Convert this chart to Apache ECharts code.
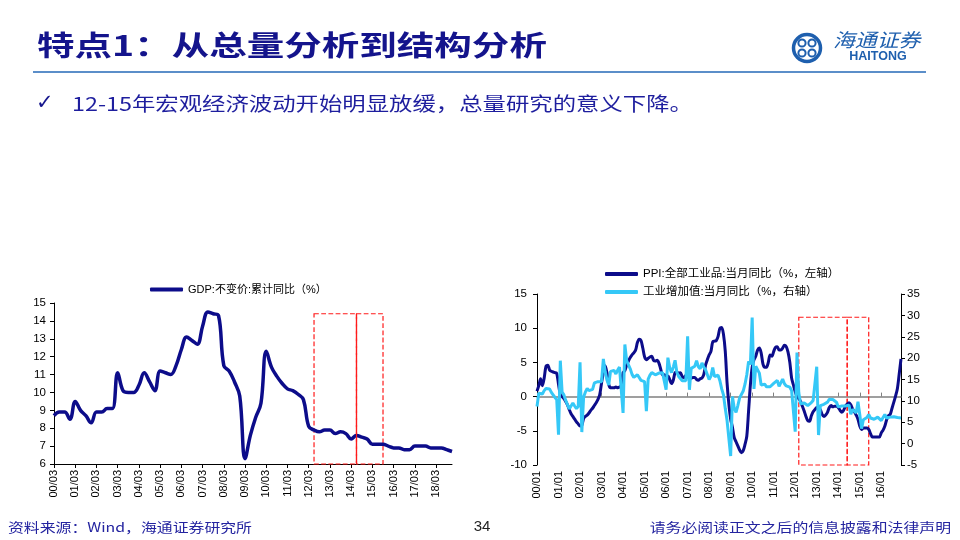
<!DOCTYPE html>
<html>
<head>
<meta charset="utf-8">
<script src="https://cdn.jsdelivr.net/npm/echarts@6/dist/echarts.min.js"></script>
<style>
html, body { margin: 0; padding: 0; background: #fff; }
#main { width: 960px; height: 540px; }
</style>
</head>
<body>
<div id="main"></div>
<script>
var gdpName = 'GDP:不变价:累计同比（%）';
var ppiName = 'PPI:全部工业品:当月同比（%，左轴）';
var ipName = '工业增加值:当月同比（%，右轴）';

// 季度标签 00/03 ... 18/12
var quarterEnds = ['03', '06', '09', '12'];
var quarters = [];
for (var y = 0; y <= 18; y++) {
    for (var q = 0; q < 4; q++) quarters.push((y < 10 ? '0' : '') + y + '/' + quarterEnds[q]);
}
// 月度标签 00/01 ... 16/12
var months = [];
for (var y2 = 0; y2 <= 16; y2++) {
    for (var m = 1; m <= 12; m++) months.push((y2 < 10 ? '0' : '') + y2 + '/' + (m < 10 ? '0' : '') + m);
}

// GDP 不变价 累计同比，每年4个季度
var gdp = [
    8.7, 8.9, 8.9, 8.5,      // 2000
    9.5, 9.0, 8.7, 8.3,      // 2001
    8.9, 8.9, 9.1, 9.1,      // 2002
    11.1, 10.1, 10.0, 10.0,  // 2003
    10.4, 11.1, 10.6, 10.1,  // 2004
    11.2, 11.1, 11.0, 11.5,  // 2005
    12.4, 13.1, 12.9, 12.7,  // 2006
    13.7, 14.5, 14.4, 14.3,  // 2007
    11.5, 11.2, 10.6, 9.8,   // 2008
    6.3, 7.6, 8.6, 9.4,      // 2009
    12.3, 11.4, 10.9, 10.5,  // 2010
    10.2, 10.1, 9.9, 9.6,    // 2011
    8.1, 7.9, 7.8, 7.9,      // 2012
    7.9, 7.7, 7.8, 7.7,      // 2013
    7.4, 7.6, 7.5, 7.4,      // 2014
    7.1, 7.1, 7.1, 7.0,      // 2015
    6.9, 6.9, 6.8, 6.8,      // 2016
    7.0, 7.0, 7.0, 6.9,      // 2017
    6.9, 6.9, 6.8, 6.7       // 2018
];

// PPI 当月同比（左轴）
var ppi = [
    0.8, 1.6, 2.6, 1.6, 2.7, 4.4, 4.6, 3.9, 3.7, 3.6, 3.5, 3.4,            // 2000
    1.8, 0.3, 0.0, -0.3, -0.7, -1.2, -1.9, -2.5, -2.9, -3.3, -3.7, -4.0,   // 2001
    -4.3, -4.2, -3.2, -2.9, -2.7, -2.4, -2.0, -1.7, -1.3, -0.9, -0.4, 0.3, // 2002
    2.0, 3.5, 4.5, 3.5, 1.8, 1.3, 1.3, 1.3, 1.4, 1.3, 1.4, 1.6,            // 2003
    3.5, 3.8, 4.6, 5.2, 5.7, 6.1, 6.4, 6.8, 7.9, 8.4, 8.2, 7.1,            // 2004
    5.8, 5.4, 5.6, 5.8, 5.9, 5.3, 5.2, 5.3, 4.9, 4.0, 3.2, 3.2,            // 2005
    3.0, 3.0, 2.5, 1.9, 2.4, 3.5, 3.6, 3.4, 3.5, 2.9, 2.8, 3.1,            // 2006
    3.3, 2.6, 2.7, 2.8, 2.8, 2.5, 2.4, 2.6, 2.7, 3.2, 4.6, 5.4,            // 2007
    6.1, 6.6, 8.0, 8.1, 8.2, 8.8, 10.0, 10.1, 9.1, 6.6, 2.0, -1.1,         // 2008
    -3.3, -4.5, -6.0, -6.6, -7.2, -7.8, -8.2, -7.9, -7.0, -5.8, -2.1, 1.7, // 2009
    4.3, 5.4, 5.9, 6.8, 7.1, 6.4, 4.8, 4.3, 4.3, 5.0, 6.1, 5.9,            // 2010
    6.6, 7.2, 7.3, 6.8, 6.8, 7.1, 7.5, 7.3, 6.5, 5.0, 2.7, 1.7,            // 2011
    0.7, 0.0, -0.3, -0.7, -1.4, -2.1, -2.9, -3.5, -3.6, -2.8, -2.2, -1.9,  // 2012
    -1.6, -1.6, -1.9, -2.6, -2.9, -2.7, -2.3, -1.6, -1.3, -1.5, -1.4, -1.4,// 2013
    -1.6, -2.0, -2.3, -2.0, -1.4, -1.1, -0.9, -1.2, -1.8, -2.2, -2.7, -3.3,// 2014
    -4.3, -4.8, -4.6, -4.6, -4.6, -4.8, -5.4, -5.9, -5.9, -5.9, -5.9, -5.9,// 2015
    -5.3, -4.9, -4.3, -3.4, -2.8, -2.6, -1.7, -0.8, 0.1, 1.2, 3.3, 5.5     // 2016
];

// 工业增加值 当月同比（右轴）
var ip = [
    8.7, 11.8, 12.2, 11.6, 12.4, 12.9, 13.0, 12.8, 12.0, 11.4, 10.8, 10.3, // 2000
    2.1, 19.4, 12.1, 11.4, 10.1, 10.1, 8.1, 8.1, 9.5, 8.8, 8.2, 8.7,       // 2001
    19.0, 2.7, 10.9, 12.1, 12.9, 12.4, 12.8, 12.7, 14.2, 14.2, 14.5, 14.9, // 2002
    14.5, 19.8, 16.9, 14.9, 13.7, 16.9, 16.5, 17.1, 16.3, 17.2, 17.9, 18.1,// 2003
    7.2, 23.2, 19.4, 19.1, 17.5, 16.2, 15.5, 15.9, 16.1, 15.7, 14.8, 14.4, // 2004
    14.5, 7.6, 15.1, 16.0, 16.6, 16.8, 16.1, 16.0, 16.5, 16.1, 16.6, 16.5, // 2005
    12.6, 20.1, 17.8, 16.6, 17.9, 19.5, 16.7, 15.7, 16.1, 14.7, 14.9, 14.7,// 2006
    25.1, 12.6, 17.6, 17.4, 18.1, 19.4, 18.0, 17.5, 18.9, 17.9, 17.3, 17.4,// 2007
    15.0, 15.8, 17.8, 15.7, 16.0, 16.0, 14.7, 12.8, 11.4, 8.2, 5.4, 5.7,   // 2008
    -2.9, 11.0, 8.3, 7.3, 8.9, 10.7, 10.8, 12.3, 13.9, 16.1, 19.2, 18.5,   // 2009
    29.5, 12.8, 18.1, 17.8, 16.5, 13.7, 13.4, 13.9, 13.3, 13.1, 13.3, 13.5,// 2010
    14.1, 14.1, 14.8, 13.4, 13.3, 15.1, 14.0, 13.5, 13.8, 13.2, 12.4, 12.8,// 2011
    2.8, 21.3, 11.9, 9.3, 9.6, 9.5, 9.2, 8.9, 9.2, 9.6, 10.1, 10.3,        // 2012
    18.0, 2.0, 8.9, 9.3, 9.2, 8.9, 9.7, 10.4, 10.2, 10.3, 10.0, 9.7,       // 2013
    8.6, 8.6, 8.8, 8.7, 8.8, 9.2, 9.0, 6.9, 8.0, 7.7, 7.2, 9.8,            // 2014
    6.8, 3.5, 5.6, 5.9, 6.1, 6.8, 6.0, 6.1, 5.7, 5.6, 6.2, 5.9,            // 2015
    5.4, 5.4, 6.8, 6.0, 6.0, 6.2, 6.0, 6.3, 6.1, 6.1, 6.2, 6.0             // 2016
];

var numFont = 'Liberation Sans, Noto Sans CJK SC, sans-serif';
var cjkFont = 'Noto Sans CJK SC, Liberation Sans, sans-serif';
var navy = '#0c0c8a';
var cyan = '#35c8f7';
var boxStyle = { color: 'rgba(0,0,0,0)', borderColor: '#ff1a1a', borderWidth: 1.2, borderType: 'dashed' };
var midLine = { color: '#ff1a1a', width: 1.2, type: 'solid' };

function yAxisBase(grid, min, max, step, pos, margin) {
    return {
        type: 'value', gridIndex: grid, min: min, max: max, interval: step, position: pos,
        axisLine: { show: true, lineStyle: { color: '#000', width: 1 } },
        axisTick: { show: true, length: 4, lineStyle: { color: '#000' } },
        axisLabel: { color: '#000', fontSize: 11.5, fontFamily: numFont, margin: margin },
        splitLine: { show: false }
    };
}

var chart = echarts.init(document.getElementById('main'));
chart.setOption({
    animation: false,
    backgroundColor: '#fff',
    graphic: [
        { type: 'text', x: 37, y: 45, scaleX: 1.34,
          style: { text: '特点1：从总量分析到结构分析', fill: '#14148c', fontSize: 28, fontWeight: 'bold', fontFamily: cjkFont, verticalAlign: 'middle' } },
        { type: 'line', shape: { x1: 33, y1: 72, x2: 926, y2: 72 }, style: { stroke: '#5b8ec9', lineWidth: 2 } },
        { type: 'text', x: 36, y: 104,
          style: { text: '✓', fill: '#14148c', fontSize: 21, fontFamily: 'DejaVu Sans', verticalAlign: 'middle' } },
        { type: 'text', x: 72, y: 104, scaleX: 1.23,
          style: { text: '12-15年宏观经济波动开始明显放缓，总量研究的意义下降。', fill: '#1e1e9e', fontSize: 19, fontFamily: cjkFont, verticalAlign: 'middle' } },
        // logo
        { type: 'circle', shape: { cx: 807, cy: 48, r: 13.5 }, style: { fill: 'none', stroke: '#1e5fae', lineWidth: 3.5 } },
        { type: 'circle', shape: { cx: 802, cy: 43, r: 3.6 }, style: { fill: 'none', stroke: '#1e5fae', lineWidth: 2 } },
        { type: 'circle', shape: { cx: 812, cy: 43, r: 3.6 }, style: { fill: 'none', stroke: '#1e5fae', lineWidth: 2 } },
        { type: 'circle', shape: { cx: 802, cy: 53, r: 3.6 }, style: { fill: 'none', stroke: '#1e5fae', lineWidth: 2 } },
        { type: 'circle', shape: { cx: 812, cy: 53, r: 3.6 }, style: { fill: 'none', stroke: '#1e5fae', lineWidth: 2 } },
        { type: 'text', x: 833, y: 40, scaleX: 1.15,
          style: { text: '海通证券', fill: '#1e5fae', fontSize: 19, fontStyle: 'italic', fontFamily: cjkFont, verticalAlign: 'middle' } },
        { type: 'text', x: 878, y: 57,
          style: { text: 'HAITONG', fill: '#1e5fae', fontSize: 12.5, fontWeight: 'bold', fontFamily: numFont, align: 'center', verticalAlign: 'middle' } },
        // footer
        { type: 'text', x: 8, y: 527, scaleX: 1.22,
          style: { text: '资料来源：Wind，海通证券研究所', fill: '#2424a0', fontSize: 13, fontFamily: cjkFont, verticalAlign: 'middle' } },
        { type: 'text', x: 482, y: 527,
          style: { text: '34', fill: '#222', fontSize: 15, fontFamily: numFont, align: 'center', verticalAlign: 'middle' } },
        { type: 'text', x: 951, y: 527, scaleX: 1.22,
          style: { text: '请务必阅读正文之后的信息披露和法律声明', fill: '#2424a0', fontSize: 13, fontFamily: cjkFont, align: 'right', verticalAlign: 'middle' } }
    ],
    legend: [
        { data: [gdpName], left: 145, top: 279, icon: 'roundRect', itemWidth: 33, itemHeight: 4,
          textStyle: { fontSize: 11, color: '#000', fontFamily: numFont } },
        { data: [ppiName, ipName], left: 600, top: 262, orient: 'vertical', icon: 'roundRect', itemGap: 4,
          itemWidth: 33, itemHeight: 4,
          textStyle: { fontSize: 11.5, color: '#000', fontFamily: numFont, lineHeight: 14 } }
    ],
    grid: [
        { left: 54, top: 303, width: 398, height: 161 },
        { left: 537, top: 294, width: 364, height: 171 }
    ],
    xAxis: [
        { type: 'category', gridIndex: 0, data: quarters, boundaryGap: false,
          axisLine: { onZero: false, lineStyle: { color: '#000', width: 1 } },
          axisTick: { interval: 3, length: 4, lineStyle: { color: '#000' } },
          axisLabel: { interval: 3, rotate: 90, fontSize: 11, color: '#000', fontFamily: numFont, margin: 6 } },
        { type: 'category', gridIndex: 1, data: months, boundaryGap: false,
          axisLine: { show: false, onZero: false }, axisTick: { show: false },
          axisLabel: { interval: 11, rotate: 90, fontSize: 11, color: '#000', fontFamily: numFont, margin: 6 } },
        { type: 'category', gridIndex: 1, data: months, boundaryGap: false,
          axisLine: { onZero: true, lineStyle: { color: '#808080', width: 1.5 } },
          axisTick: { interval: 11, length: 4, lineStyle: { color: '#808080' } },
          axisLabel: { show: false } }
    ],
    yAxis: [
        yAxisBase(0, 6, 15, 1, 'left', 8),
        yAxisBase(1, -10, 15, 5, 'left', 10),
        yAxisBase(1, -5, 35, 5, 'right', 6)
    ],
    series: [
        { name: gdpName, type: 'line', xAxisIndex: 0, yAxisIndex: 0, data: gdp,
          symbol: 'none', smooth: 0.4, clip: false,
          lineStyle: { color: navy, width: 3.5 }, itemStyle: { color: navy },
          markArea: { silent: true, label: { show: false }, itemStyle: boxStyle,
              data: [
                  [{ coord: ['12/06', 14.4] }, { coord: ['14/06', 6] }],
                  [{ coord: ['14/06', 14.4] }, { coord: ['15/09', 6] }]
              ] },
          markLine: { silent: true, symbol: ['none', 'none'], label: { show: false }, lineStyle: midLine,
              data: [[{ coord: ['14/06', 6] }, { coord: ['14/06', 14.4] }]] } },
        { name: ppiName, type: 'line', xAxisIndex: 1, yAxisIndex: 1, data: ppi,
          symbol: 'none', smooth: 0.3, clip: false,
          lineStyle: { color: navy, width: 3 }, itemStyle: { color: navy },
          markArea: { silent: true, label: { show: false }, itemStyle: boxStyle,
              data: [
                  [{ coord: ['12/03', 11.6] }, { coord: ['14/06', -10.2] }],
                  [{ coord: ['14/06', 11.6] }, { coord: ['15/06', -10.2] }]
              ] },
          markLine: { silent: true, symbol: ['none', 'none'], label: { show: false }, lineStyle: midLine,
              data: [[{ coord: ['14/06', -10.2] }, { coord: ['14/06', 11.6] }]] } },
        { name: ipName, type: 'line', xAxisIndex: 1, yAxisIndex: 2, data: ip,
          symbol: 'none', clip: false,
          lineStyle: { color: cyan, width: 3 }, itemStyle: { color: cyan } }
    ]
});
</script>
</body>
</html>
